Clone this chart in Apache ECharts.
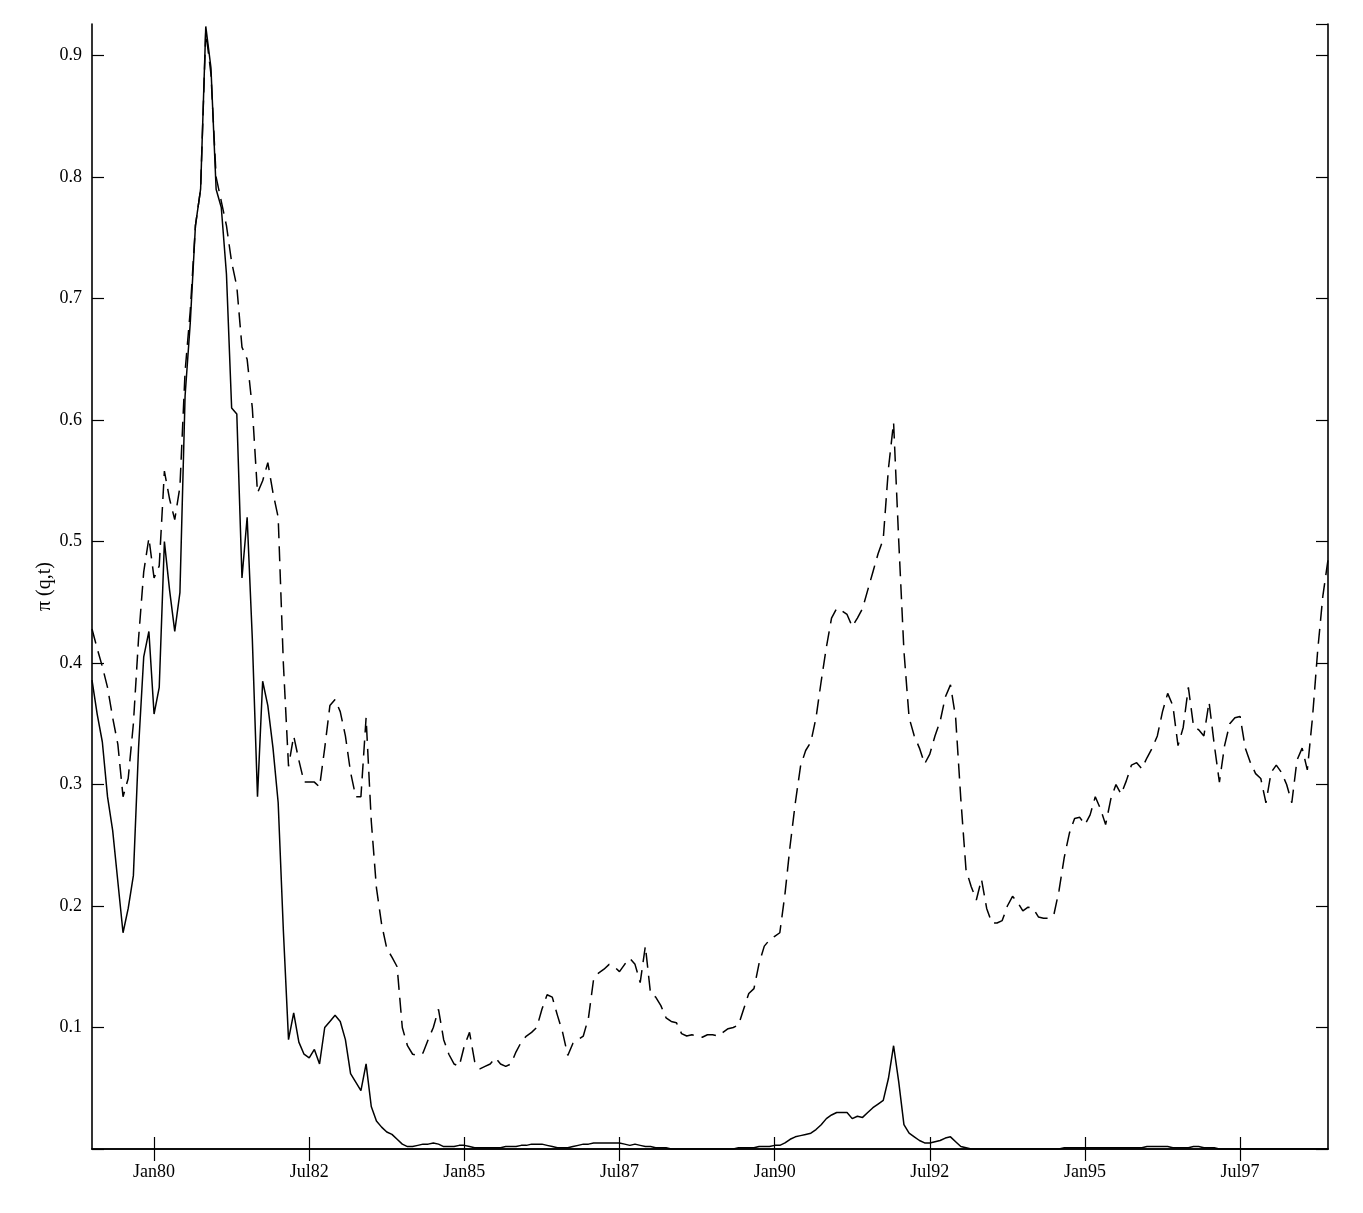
<!DOCTYPE html>
<html>
<head>
<meta charset="utf-8">
<script src="https://cdn.jsdelivr.net/npm/echarts@6/dist/echarts.min.js"></script>
<style>html,body{margin:0;padding:0;background:#fff;}#c{width:1363px;height:1213px;}</style>
</head>
<body>
<div id="c"></div>
<script>
// Monthly data, Jan 1979 .. Dec 1998
const monthNames = ['Jan','Feb','Mar','Apr','May','Jun','Jul','Aug','Sep','Oct','Nov','Dec'];
const years = [1979,1980,1981,1982,1983,1984,1985,1986,1987,1988,1989,1990,1991,1992,1993,1994,1995,1996,1997,1998];
const yTicks = [0.1,0.2,0.3,0.4,0.5,0.6,0.7,0.8,0.9];
const yLabel = 'π (q,t)';

const solid = [
0.386,0.358,0.335,0.29,0.262,0.22,0.178,0.198,0.225,0.33,
0.405,0.426,0.358,0.38,0.50,0.46,0.426,0.458,0.62,0.68,
0.76,0.79,0.924,0.89,0.79,0.775,0.72,0.61,0.605,0.47,
0.52,0.42,0.29,0.385,0.365,0.33,0.285,0.18,0.09,0.112,
0.088,0.078,0.075,0.082,0.07,0.10,0.105,0.11,0.105,0.09,
0.062,0.055,0.048,0.07,0.035,0.023,0.018,0.014,0.012,0.008,
0.004,0.002,0.002,0.003,0.004,0.004,0.005,0.004,0.002,0.002,
0.002,0.003,0.003,0.002,0.001,0.001,0.001,0.001,0.001,0.001,
0.002,0.002,0.002,0.003,0.003,0.004,0.004,0.004,0.003,0.002,
0.001,0.001,0.001,0.002,0.003,0.004,0.004,0.005,0.005,0.005,
0.005,0.005,0.005,0.004,0.003,0.004,0.003,0.002,0.002,0.001,
0.001,0.001,0,0,0,0,0,0,0,0,
0,0,0,0,0,0.001,0.001,0.001,0.001,0.002,
0.002,0.002,0.003,0.003,0.005,0.008,0.010,0.011,0.012,0.013,
0.016,0.020,0.025,0.028,0.030,0.030,0.030,0.025,0.027,0.026,
0.030,0.034,0.037,0.040,0.058,0.085,0.055,0.020,0.013,0.010,
0.007,0.005,0.005,0.006,0.007,0.009,0.010,0.006,0.002,0.001,
0,0,0,0,0,0,0,0,0,0,
0,0,0,0,0,0,0,0,0.001,0.001,
0.001,0.001,0.001,0.001,0.001,0.001,0.001,0.001,0.001,0.001,
0.001,0.001,0.001,0.001,0.002,0.002,0.002,0.002,0.002,0.001,
0.001,0.001,0.001,0.002,0.002,0.001,0.001,0.001,0,0,
0,0,0,0,0,0,0,0,0,0,
0,0,0,0,0,0,0,0,0,0
];

const dashed = [
0.428,0.412,0.397,0.38,0.355,0.333,0.29,0.305,0.35,0.42,
0.475,0.503,0.47,0.48,0.558,0.535,0.518,0.545,0.64,0.69,
0.76,0.79,0.92,0.885,0.80,0.78,0.76,0.73,0.71,0.66,
0.65,0.61,0.54,0.55,0.565,0.54,0.52,0.40,0.315,0.34,
0.32,0.302,0.302,0.302,0.298,0.33,0.365,0.37,0.36,0.34,
0.31,0.29,0.29,0.355,0.27,0.215,0.185,0.165,0.158,0.15,
0.10,0.085,0.078,0.077,0.079,0.09,0.10,0.115,0.09,0.078,
0.07,0.068,0.085,0.096,0.072,0.066,0.068,0.07,0.075,0.07,
0.068,0.07,0.08,0.088,0.093,0.096,0.10,0.115,0.127,0.125,
0.11,0.096,0.077,0.087,0.09,0.093,0.108,0.14,0.145,0.148,
0.152,0.15,0.146,0.152,0.157,0.152,0.137,0.167,0.128,0.125,
0.118,0.108,0.105,0.104,0.095,0.093,0.094,0.093,0.092,0.094,
0.094,0.093,0.096,0.099,0.10,0.102,0.115,0.128,0.132,0.153,
0.167,0.172,0.175,0.178,0.21,0.25,0.285,0.315,0.328,0.335,
0.355,0.385,0.413,0.437,0.445,0.443,0.44,0.43,0.437,0.445,
0.46,0.475,0.49,0.502,0.56,0.598,0.50,0.41,0.355,0.34,
0.33,0.317,0.325,0.34,0.352,0.372,0.382,0.355,0.288,0.23,
0.216,0.205,0.222,0.198,0.186,0.186,0.188,0.20,0.208,0.203,
0.196,0.199,0.198,0.191,0.19,0.19,0.193,0.213,0.24,0.26,
0.272,0.273,0.267,0.275,0.29,0.28,0.267,0.288,0.30,0.292,
0.303,0.316,0.318,0.313,0.322,0.33,0.34,0.36,0.375,0.365,
0.332,0.347,0.38,0.348,0.345,0.34,0.368,0.333,0.302,0.332,
0.35,0.355,0.356,0.33,0.318,0.309,0.305,0.285,0.31,0.316,
0.31,0.30,0.285,0.32,0.33,0.312,0.355,0.41,0.455,0.485
];

const categories = [];
years.forEach(y => monthNames.forEach(m => categories.push(m + String(y).slice(2))));

const FONT = '"Liberation Serif", "DejaVu Serif", serif';
const showTick = (idx) => idx >= 12 && (idx - 12) % 30 === 0;
const yMax = 0.926;

const chart = echarts.init(document.getElementById('c'), null, {renderer: 'canvas'});
chart.setOption({
  animation: false,
  backgroundColor: '#ffffff',
  grid: {left: 92, right: 35, top: 24, bottom: 64, containLabel: false},
  xAxis: [
    {
      type: 'category', data: categories, boundaryGap: false, position: 'bottom',
      axisLine: {show: true, lineStyle: {color: '#000', width: 1.6}},
      axisTick: {show: true, inside: true, length: 12, interval: showTick, lineStyle: {color: '#000', width: 1.2}},
      axisLabel: {show: true, interval: showTick, margin: 14, color: '#000', fontFamily: FONT, fontSize: 18},
      splitLine: {show: false}
    },
    {
      type: 'category', data: categories, boundaryGap: false, position: 'top',
      axisLine: {show: true, lineStyle: {color: '#000', width: 1.6}},
      axisTick: {show: true, inside: true, length: 12, interval: showTick, lineStyle: {color: '#000', width: 1.2}},
      axisLabel: {show: false},
      splitLine: {show: false}
    }
  ],
  yAxis: [
    {
      type: 'value', min: 0, max: yMax, interval: 0.1, position: 'left',
      name: yLabel, nameLocation: 'middle', nameGap: 37, nameRotate: 90, nameMoveOverlap: false,
      nameTextStyle: {color: '#000', fontFamily: FONT, fontSize: 20},
      axisLine: {show: true, lineStyle: {color: '#000', width: 1.6}},
      axisTick: {show: true, inside: true, length: 12, lineStyle: {color: '#000', width: 1.2}},
      axisLabel: {show: true, margin: 10, color: '#000', fontFamily: FONT, fontSize: 18,
        formatter: (v) => { const t = yTicks.find(k => Math.abs(k - v) < 1e-6); return t === undefined ? '' : t.toFixed(1); },
        showMaxLabel: false},
      splitLine: {show: false}
    },
    {
      type: 'value', min: 0, max: yMax, interval: 0.1, position: 'right',
      axisLine: {show: true, lineStyle: {color: '#000', width: 1.6}},
      axisTick: {show: true, inside: true, length: 12, lineStyle: {color: '#000', width: 1.2}},
      axisLabel: {show: false},
      splitLine: {show: false}
    }
  ],
  series: [
    {
      type: 'line', data: solid, xAxisIndex: 0, yAxisIndex: 0,
      showSymbol: false, symbol: 'none', smooth: false,
      lineStyle: {color: '#000', width: 1.5, type: 'solid'}
    },
    {
      type: 'line', data: dashed, xAxisIndex: 0, yAxisIndex: 0,
      showSymbol: false, symbol: 'none', smooth: false,
      lineStyle: {color: '#000', width: 1.5, type: [15, 8]}
    }
  ]
});
</script>
</body>
</html>
